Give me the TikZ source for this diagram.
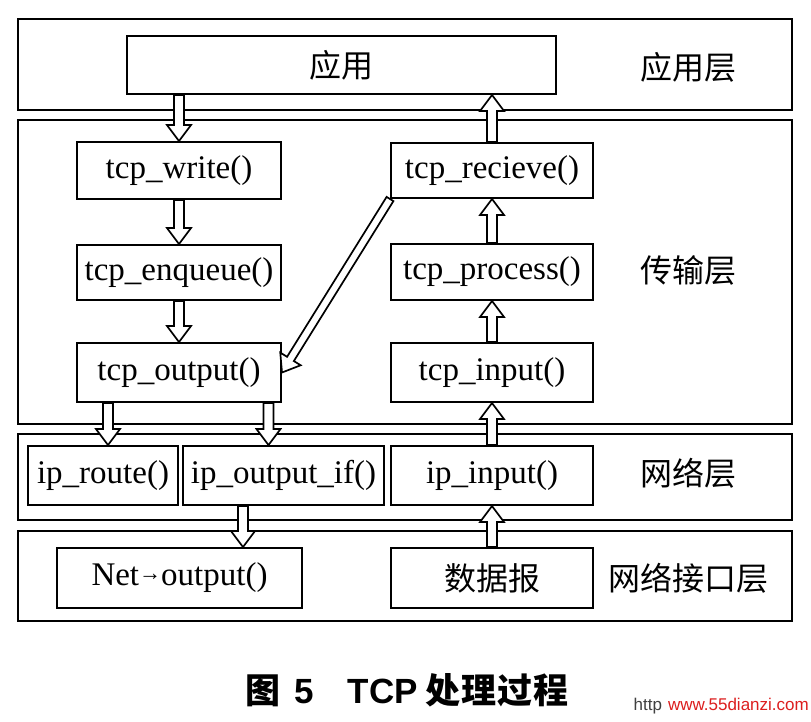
\documentclass[tikz,border=0pt]{standalone}
\usepackage{fontspec}
\setmainfont{Liberation Serif}
\newfontfamily\cjk{Noto Sans CJK SC}
\newfontfamily\wmfont{Liberation Sans}
\usetikzlibrary{calc}
\definecolor{wmred}{RGB}{220,30,30}
\newcommand\harrow[3][5]{%
  \coordinate (hS) at (#2);
  \coordinate (hT) at (#3);
  \coordinate (hH) at ($(hT)!16pt!(hS)$);
  \path[arr] ($(hS)!#1pt!90:(hT)$) -- ($(hH)!#1pt!90:(hT)$) -- ($(hH)!12pt!90:(hT)$) -- (hT)
     -- ($(hH)!12pt!-90:(hT)$) -- ($(hH)!#1pt!-90:(hT)$) -- ($(hS)!#1pt!-90:(hT)$) -- cycle;
}
\begin{document}
\begin{tikzpicture}[x=1pt,y=-1pt,
  layer/.style={draw, line width=2.2pt, minimum width=774pt, inner sep=0pt},
  box/.style={draw, line width=2pt, inner sep=0pt, fill=white, font=\fontsize{33}{36}\selectfont},
  lab/.style={font=\cjk\fontsize{32}{36}\selectfont},
  arr/.style={draw, fill=white, line width=1.7pt, line join=miter}]
\useasboundingbox[fill=white] (0,0) rectangle (811,721);
% layers
\node[layer, minimum height=91pt] (L1) at (405,64.5) {};
\node[layer, minimum height=304pt] (L2) at (405,272) {};
\node[layer, minimum height=86pt] (L3) at (405,477) {};
\node[layer, minimum height=90pt] (L4) at (405,576) {};
% layer labels
\node[lab] (t1) at (688,67) {应用层};
\node[lab] (t2) at (688,270) {传输层};
\node[lab] (t3) at (688,473) {网络层};
\node[lab] (t4) at (688,578) {网络接口层};
% boxes
\node[box, minimum width=429pt, minimum height=58pt, font=\cjk\fontsize{32}{36}\selectfont] (app) at (341.5,65) {应用};
\node[box, minimum width=204pt, minimum height=57pt] (write) at (179,170.5) {tcp\_write()};
\node[box, minimum width=204pt, minimum height=55pt] (enq) at (179,272.5) {tcp\_enqueue()};
\node[box, minimum width=204pt, minimum height=59pt] (out) at (179,372.5) {tcp\_output()};
\node[box, minimum width=202pt, minimum height=55pt] (rec) at (492,170.5) {tcp\_recieve()};
\node[box, minimum width=202pt, minimum height=56pt] (proc) at (492,272) {tcp\_process()};
\node[box, minimum width=202pt, minimum height=59pt] (inp) at (492,372.5) {tcp\_input()};
\node[box, minimum width=150pt, minimum height=59pt] (route) at (103,475.5) {ip\_route()};
\node[box, minimum width=201pt, minimum height=59pt] (ipout) at (283.5,475.5) {ip\_output\_if()};
\node[box, minimum width=202pt, minimum height=59pt] (ipin) at (492,475.5) {ip\_input()};
\node[box, minimum width=245pt, minimum height=60pt] (net) at (179.5,578) {Net\raisebox{5pt}{\fontsize{22}{24}\selectfont →}output()};
\node[box, minimum width=202pt, minimum height=60pt, font=\cjk\fontsize{32}{36}\selectfont] (data) at (492,578) {数据报};
% helper coordinates
\coordinate (c1) at ($(route.north)+(5,0)$);
\coordinate (c2) at ($(ipout.north)+(-15,0)$);
\coordinate (c3) at ($(net.north)+(63.5,0)$);
% arrows
\harrow{app.south -| write.north}{write.north}
\harrow{write.south}{enq.north}
\harrow{enq.south}{out.north}
\harrow{out.south -| c1}{c1}
\harrow{out.south -| c2}{c2}
\harrow{ipout.south -| c3}{c3}
\harrow{data.north}{ipin.south}
\harrow{ipin.north}{inp.south}
\harrow{inp.north}{proc.south}
\harrow{proc.north}{rec.south}
\harrow{rec.north}{app.south -| rec.north}
\harrow[4]{rec.south west}{out.east}
% caption
\node[font=\cjk\bfseries\fontsize{35}{38}\selectfont] (cap) at (407,690) {图\hspace{14pt}{\wmfont\bfseries 5}\hspace{34pt}{\wmfont TCP}\hspace{8pt}处\hspace{1pt}理\hspace{1pt}过\hspace{1pt}程};
\node[font=\wmfont\fontsize{17}{20}\selectfont, anchor=east, inner sep=0pt] (wm) at (809,706) {\textcolor{darkgray}{http}\hspace{6pt}\textcolor{wmred}{www.55dianzi.com}};
\end{tikzpicture}
\end{document}
